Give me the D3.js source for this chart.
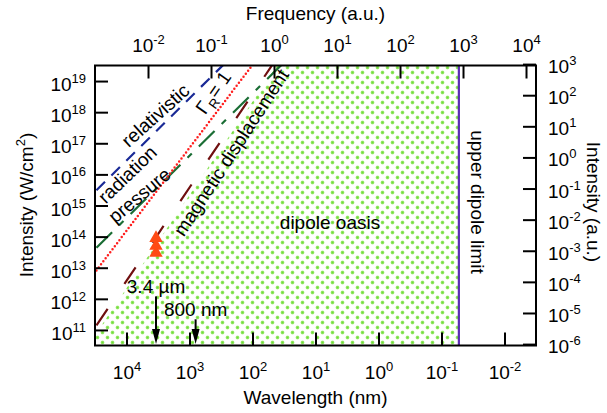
<!DOCTYPE html>
<html>
<head>
<meta charset="utf-8">
<script src="https://cdn.jsdelivr.net/npm/d3@7"></script>
<style>
  body { margin: 0; background: #fff; }
  svg { display: block; font-family: "Liberation Sans", Arial, Helvetica, sans-serif; }
</style>
</head>
<body>
<svg id="chart" width="607" height="413"></svg>
<script>
// ---- axis ticks ----
const wavelengthTicks = [1e4, 1e3, 1e2, 1e1, 1e0, 1e-1, 1e-2];        // nm
const frequencyTicks  = [1e-2, 1e-1, 1e0, 1e1, 1e2, 1e3, 1e4];        // a.u.
const intensityTicks  = [1e11, 1e12, 1e13, 1e14, 1e15, 1e16, 1e17, 1e18, 1e19]; // W/cm^2
const intensityAuTicks = [1e-6, 1e-5, 1e-4, 1e-3, 1e-2, 1e-1, 1e0, 1e1, 1e2, 1e3]; // a.u.

// ---- unit conversions ----
const auFrequencyNm = 45.563;   // omega (a.u.) = 45.563 / lambda (nm)
const auIntensity = 3.51e16;    // 1 a.u. of intensity in W/cm^2

// ---- regime boundaries: [wavelength (nm), intensity (W/cm^2)] ----
const relativisticLine      = [[30000, 3.1e15], [100, 2.8e20]];
const radiationPressureLine = [[30000, 4.4e13], [30, 4.4e19]];
const gammaRLine            = [[30000, 8.2e12], [30, 8.2e20]];
const magneticLine          = [[30000, 1.4e11], [30, 1.4e20]];
const oasisEdge             = [[40000, 3.4e10], [30, 8.1e19]];
const upperDipoleLimit = 0.053;  // nm

// ---- experiments ----
const experimentWavelength = [3400, 3400, 3400];
const experimentIntensity  = [3e13, 5e13, 9e13];

// ---- driver wavelength markers ----
const arrowWavelengths = [3400, 800];
const arrowTops        = [1.2e12, 2.2e11];
const arrowLabels      = ["3.4 µm", "800 nm"];

// ---- layout ----
const X0 = 95, X1 = 536, Y0 = 65.5, Y1 = 345.5;
const FS = 19, SUP = 13, TICK = 13;

const svg = d3.select("#chart");

const x  = d3.scaleLog().domain([10 ** 4.5, 10 ** -2.5]).range([X0, X1]);
const xf = d3.scaleLog().domain([auFrequencyNm / 10 ** 4.5, auFrequencyNm / 10 ** -2.5]).range([X0, X1]);
const y  = d3.scaleLog().domain([10 ** 10.5, 10 ** 19.5]).range([Y1, Y0]);
const yr = d3.scaleLog().domain([10 ** 10.5 / auIntensity, 10 ** 19.5 / auIntensity]).range([Y1, Y0]);

const defs = svg.append("defs");
defs.append("clipPath").attr("id", "plotClip")
  .append("rect").attr("x", X0).attr("y", Y0).attr("width", X1 - X0).attr("height", Y1 - Y0);

// staggered green dot texture for the oasis
const pat = defs.append("pattern").attr("id", "dots")
  .attr("patternUnits", "userSpaceOnUse").attr("width", 10).attr("height", 10);
[[2.5, 2.5], [7.5, 7.5]].forEach(([cx, cy]) => {
  pat.append("circle").attr("cx", cx).attr("cy", cy).attr("r", 1.9).attr("fill", "#b8f094");
  pat.append("rect").attr("x", cx - 1.15).attr("y", cy - 1.15).attr("width", 2.3).attr("height", 2.3).attr("fill", "#70dd38");
});

const plot = svg.append("g").attr("clip-path", "url(#plotClip)");

// dipole oasis region
const oasis = [
  oasisEdge[0], oasisEdge[1],
  [upperDipoleLimit, oasisEdge[1][1]],
  [upperDipoleLimit, 1e10],
  [oasisEdge[0][0], 1e10]
];
plot.append("path")
  .attr("d", d3.line().x(d => x(d[0])).y(d => y(d[1]))(oasis) + "Z")
  .attr("fill", "url(#dots)");

// upper dipole limit
plot.append("line")
  .attr("x1", x(upperDipoleLimit)).attr("x2", x(upperDipoleLimit))
  .attr("y1", Y0).attr("y2", Y1)
  .attr("stroke", "#5a2db4").attr("stroke-width", 2.2);

const line = d3.line().x(d => x(d[0])).y(d => y(d[1]));
function boundary(data, color, dash, width, cap) {
  plot.append("path").attr("d", line(data))
    .attr("fill", "none").attr("stroke", color)
    .attr("stroke-width", width).attr("stroke-dasharray", dash)
    .attr("stroke-linecap", cap || "butt");
}
boundary(relativisticLine, "#1a2a96", "12,9", 2.2);
boundary(radiationPressureLine, "#1b6e35", "22,10,6,10", 2.2);
boundary(magneticLine, "#701010", "20,30", 2.2);
boundary(gammaRLine, "#ff1f1f", "0,3.8", 2.5, "round");

// experiments
const tri = d3.symbol().type(d3.symbolTriangle).size(78);
plot.selectAll(".exp").data(experimentIntensity).enter().append("path")
  .attr("transform", (d, i) => `translate(${x(experimentWavelength[i])},${y(d)})`)
  .attr("d", tri).attr("fill", "#ff4a14");

// wavelength arrows
arrowWavelengths.forEach((w, i) => {
  const ax = x(w), top = y(arrowTops[i]), tip = Y1 - 1.5;
  svg.append("line").attr("x1", ax).attr("x2", ax).attr("y1", top).attr("y2", tip - 10)
    .attr("stroke", "#000").attr("stroke-width", 2);
  svg.append("path")
    .attr("d", `M${ax - 4},${tip - 15}L${ax + 4},${tip - 15}L${ax},${tip}Z`)
    .attr("fill", "#000");
  svg.append("text").attr("x", ax).attr("y", top - 3.5)
    .attr("text-anchor", "middle").attr("font-size", FS).text(arrowLabels[i]);
});

// ---- axes ----
function pow10(t, el) {
  const e = Math.round(Math.log10(t));
  el.append("tspan").text("10");
  el.append("tspan").attr("dy", -8).attr("font-size", SUP).text(String(e));
}
function styleAxis(g) {
  g.select(".domain").remove();
  g.selectAll(".tick line").attr("stroke", "#000").attr("stroke-width", 2);
  g.selectAll(".tick text").remove();
}

const gLeft = svg.append("g").attr("transform", `translate(${X0},0)`)
  .call(d3.axisLeft(y).tickValues(intensityTicks).tickSize(-TICK).tickFormat(""));
styleAxis(gLeft);
gLeft.selectAll(".tick").each(function (t) {
  const el = d3.select(this).append("text").attr("x", -9).attr("y", 9.5)
    .attr("text-anchor", "end").attr("font-size", FS).attr("fill", "#000");
  pow10(t, el);
});

const gRight = svg.append("g").attr("transform", `translate(${X1},0)`)
  .call(d3.axisRight(yr).tickValues(intensityAuTicks).tickSize(-TICK).tickFormat(""));
styleAxis(gRight);
gRight.selectAll(".tick").each(function (t) {
  const el = d3.select(this).append("text").attr("x", 12).attr("y", 8.5)
    .attr("text-anchor", "start").attr("font-size", FS).attr("fill", "#000");
  pow10(t, el);
});

const gBottom = svg.append("g").attr("transform", `translate(0,${Y1})`)
  .call(d3.axisBottom(x).tickValues(wavelengthTicks).tickSize(-TICK).tickFormat(""));
styleAxis(gBottom);
gBottom.selectAll(".tick").each(function (t) {
  const el = d3.select(this).append("text").attr("x", 0).attr("y", 33)
    .attr("text-anchor", "middle").attr("font-size", FS).attr("fill", "#000");
  pow10(t, el);
});

const gTop = svg.append("g").attr("transform", `translate(0,${Y0})`)
  .call(d3.axisTop(xf).tickValues(frequencyTicks).tickSize(-TICK).tickFormat(""));
styleAxis(gTop);
gTop.selectAll(".tick").each(function (t) {
  const el = d3.select(this).append("text").attr("x", 0).attr("y", -14)
    .attr("text-anchor", "middle").attr("font-size", FS).attr("fill", "#000");
  pow10(t, el);
});

// frame
svg.append("rect").attr("x", X0).attr("y", Y0).attr("width", X1 - X0).attr("height", Y1 - Y0)
  .attr("fill", "none").attr("stroke", "#000").attr("stroke-width", 2);

// ---- axis titles ----
svg.append("text").attr("x", (X0 + X1) / 2).attr("y", 20).attr("text-anchor", "middle")
  .attr("font-size", FS).text("Frequency (a.u.)");
svg.append("text").attr("x", (X0 + X1) / 2).attr("y", 404).attr("text-anchor", "middle")
  .attr("font-size", FS).text("Wavelength (nm)");
const lt = svg.append("text").attr("transform", "translate(33,205) rotate(-90)")
  .attr("text-anchor", "middle").attr("font-size", FS);
lt.append("tspan").text("Intensity (W/cm");
lt.append("tspan").attr("dy", -8).attr("font-size", SUP).text("2");
lt.append("tspan").attr("dy", 8).text(")");
svg.append("text").attr("transform", "translate(587,202) rotate(90)")
  .attr("text-anchor", "middle").attr("font-size", FS).text("Intensity (a.u.)");

// ---- region labels ----
function label(txt, cx, cy, angle) {
  return svg.append("text").attr("transform", `translate(${cx},${cy}) rotate(${angle})`)
    .attr("text-anchor", "middle").attr("dy", "0.3em").attr("font-size", FS).text(txt);
}
label("relativistic", 156, 116, -42);
label("radiation", 128, 175, -44);
label("pressure", 140, 196, -40);
label("magnetic displacement", 232, 153, -57);
svg.append("text").attr("x", 330).attr("y", 229).attr("text-anchor", "middle")
  .attr("font-size", FS).text("dipole oasis");
svg.append("text").attr("transform", "translate(471,202) rotate(90)")
  .attr("text-anchor", "middle").attr("font-size", FS).text("upper dipole limit");

const gr = svg.append("text").attr("transform", "translate(214,93) rotate(-55)")
  .attr("text-anchor", "middle").attr("dy", "0.3em").attr("font-size", FS);
gr.append("tspan").text("Γ");
gr.append("tspan").attr("dy", 5).attr("font-size", SUP).text("R");
gr.append("tspan").attr("dy", -5).text("= 1");
</script>
</body>
</html>
